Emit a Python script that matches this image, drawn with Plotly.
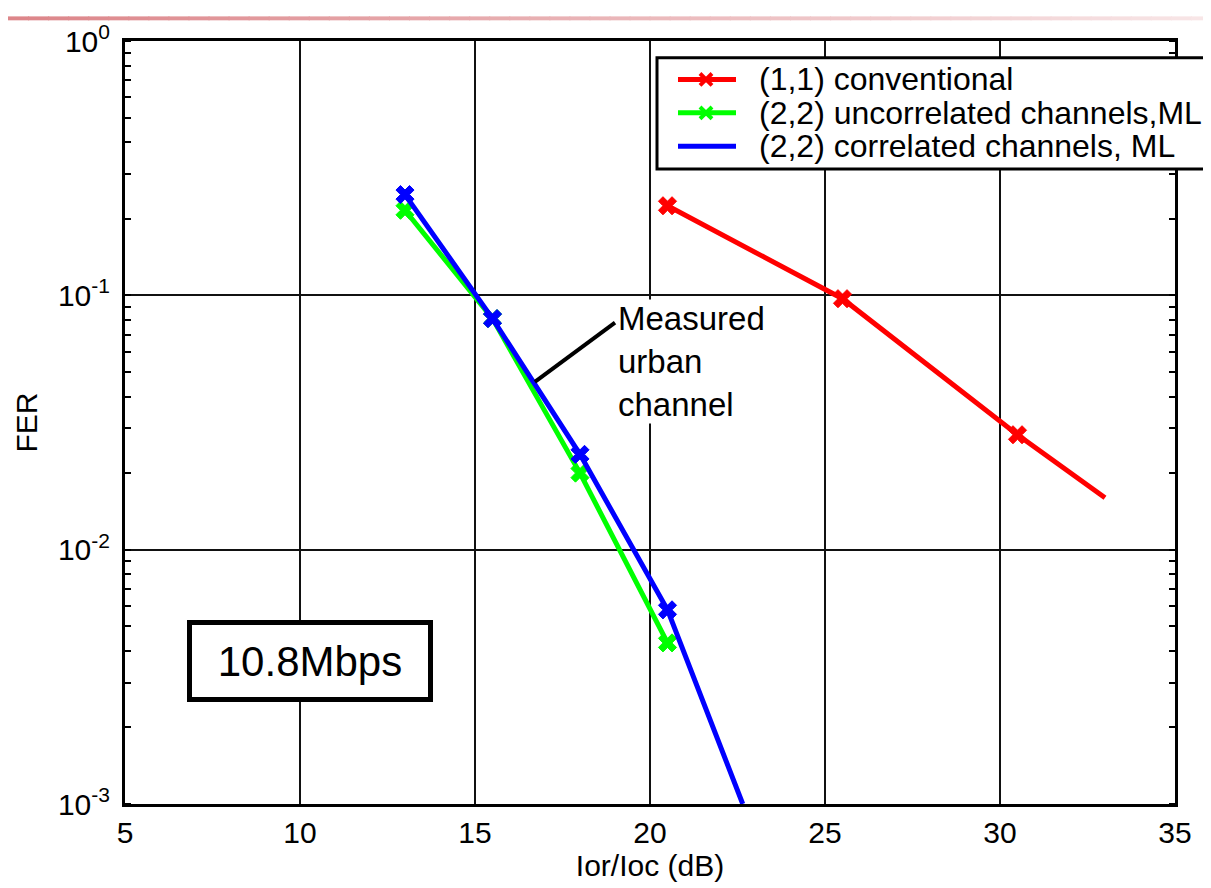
import numpy as np
import plotly.graph_objects as go

# ---- data ----
snr_conv = [20.5, 25.5, 30.5, 33.0]
fer_conv = [0.225, 0.097, 0.0283, 0.016]
mark_conv = [16, 16, 16, 0]

snr_unc = [13.0, 15.5, 18.0, 20.5]
fer_unc = [0.216, 0.081, 0.020, 0.0043]
mark_unc = [16, 16, 16, 16]

snr_cor = [13.0, 15.5, 18.0, 20.5, 22.65]
fer_cor = [0.249, 0.081, 0.0237, 0.0058, 0.001]
mark_cor = [16, 16, 16, 16, 0]

names = ["(1,1) conventional", "(2,2) uncorrelated channels,ML", "(2,2) correlated channels, ML"]
colors = ["#FF0000", "#00FF00", "#0000FF"]
legend_has_marker = [True, True, False]

x_ticks = [5, 10, 15, 20, 25, 30, 35]
y_ticks = [1e-3, 1e-2, 1e-1, 1]
y_ticktext = ["10<sup>-3</sup>", "10<sup>-2</sup>", "10<sup>-1</sup>", "10<sup>0</sup>"]

FONT = "Arial, Liberation Sans, sans-serif"

# layout geometry (figure sits 8px inside the page because of the body margin)
FIG_W, FIG_H = 1203, 880
M_L, M_R, M_T, M_B = 117, 36, 25, 80
PW = FIG_W - M_L - M_R
PH = FIG_H - M_T - M_B


def px_x(dx):
    return dx / PW


def px_y(dy):
    return dy / PH


fig = go.Figure()

series = [(snr_conv, fer_conv, mark_conv), (snr_unc, fer_unc, mark_unc), (snr_cor, fer_cor, mark_cor)]
for (xs, ys, ms), c, n in zip(series, colors, names):
    fig.add_trace(go.Scatter(
        x=xs, y=ys, mode="lines+markers", name=n, showlegend=False,
        line=dict(color=c, width=5),
        marker=dict(symbol="x", size=ms, color=c, opacity=1, line=dict(width=1, color=c)),
    ))

# decorative gradient bar at the very top
n_seg = 60
x_left, x_right = px_x(-M_L), px_x(FIG_W - M_L)
c0 = np.array([221, 134, 138])
c1 = np.array([248, 230, 231])
for i in range(n_seg):
    t = i / (n_seg - 1)
    col = (c0 + (c1 - c0) * t).astype(int)
    fig.add_shape(type="rect", xref="paper", yref="paper",
                  x0=x_left + (x_right - x_left) * i / n_seg,
                  x1=x_left + (x_right - x_left) * (i + 1) / n_seg + 0.001,
                  y0=1 + px_y(M_T - 4), y1=1 + px_y(M_T),
                  line=dict(width=0),
                  fillcolor=f"rgb({col[0]},{col[1]},{col[2]})")

# ---- hand-drawn legend box (paper coordinates) ----
lg_x0, lg_x1 = px_x(532), px_x(1082)
lg_y0, lg_y1 = 1 - px_y(130), 1 - px_y(17)
fig.add_shape(type="rect", xref="paper", yref="paper",
              x0=lg_x0, x1=lg_x1, y0=lg_y0, y1=lg_y1,
              line=dict(color="black", width=3), fillcolor="white", layer="above")
row_y = [1 - px_y(39), 1 - px_y(73), 1 - px_y(107)]
ln_x0, ln_x1, mk_x = px_x(553), px_x(611), px_x(581)
txt_x = px_x(632)
for n, c, ry, hm in zip(names, colors, row_y, legend_has_marker):
    fig.add_shape(type="line", xref="paper", yref="paper",
                  x0=ln_x0, x1=ln_x1, y0=ry, y1=ry,
                  line=dict(color=c, width=5), layer="above")
    if hm:
        dx, dy = px_x(6), px_y(6)
        fig.add_shape(type="line", xref="paper", yref="paper",
                      x0=mk_x - dx, x1=mk_x + dx, y0=ry - dy, y1=ry + dy,
                      line=dict(color=c, width=4), layer="above")
        fig.add_shape(type="line", xref="paper", yref="paper",
                      x0=mk_x - dx, x1=mk_x + dx, y0=ry + dy, y1=ry - dy,
                      line=dict(color=c, width=4), layer="above")
    fig.add_annotation(x=txt_x, y=ry, xref="paper", yref="paper", text=n,
                       showarrow=False, xanchor="left", yanchor="middle",
                       font=dict(family=FONT, size=32, color="black"))

# connector line for the "Measured urban channel" label
fig.add_shape(type="line", xref="x", yref="y",
              x0=16.71, y0=0.0457, x1=19.0, y1=0.0781,
              line=dict(color="black", width=4))

fig.add_annotation(
    x=19.06, y=np.log10(0.0967), xref="x", yref="y",
    text="Measured<br>urban<br>channel", showarrow=False,
    xanchor="left", yanchor="top", align="left",
    font=dict(family=FONT, size=33, color="black"),
    bgcolor="white", borderpad=0,
)

fig.add_annotation(
    x=10.29, y=np.log10(0.00364), xref="x", yref="y",
    text="10.8Mbps", showarrow=False,
    xanchor="center", yanchor="middle",
    font=dict(family=FONT, size=42, color="black"),
    bgcolor="white", bordercolor="black", borderwidth=5,
    width=236, height=72, borderpad=0,
)

fig.update_layout(
    width=FIG_W, height=FIG_H,
    margin=dict(l=M_L, r=M_R, t=M_T, b=M_B),
    paper_bgcolor="white", plot_bgcolor="white",
    font=dict(family=FONT, size=30, color="black"),
    showlegend=False,
)

fig.update_xaxes(
    range=[5, 35], tickmode="array", tickvals=x_ticks,
    showgrid=True, gridcolor="#111111", gridwidth=1.5,
    showline=True, linecolor="black", linewidth=3, mirror=True,
    ticks="", zeroline=False,
    tickfont=dict(family=FONT, size=30, color="black"),
    title=dict(text="Ior/Ioc (dB)", font=dict(family=FONT, size=30, color="black"), standoff=6),
)
fig.update_yaxes(
    type="log", range=[-3, 0], tickmode="array", tickvals=y_ticks, ticktext=y_ticktext,
    showgrid=True, gridcolor="#111111", gridwidth=1.5,
    showline=True, linecolor="black", linewidth=3, mirror="allticks",
    ticks="", zeroline=False,
    minor=dict(ticks="inside", ticklen=6, tickwidth=1.5, tickcolor="black", dtick="D1", showgrid=False),
    tickfont=dict(family=FONT, size=30, color="black"),
    ticklabelstandoff=6,
    title=dict(text="FER", font=dict(family=FONT, size=30, color="black"), standoff=12),
)

fig.write_html("out.html")
